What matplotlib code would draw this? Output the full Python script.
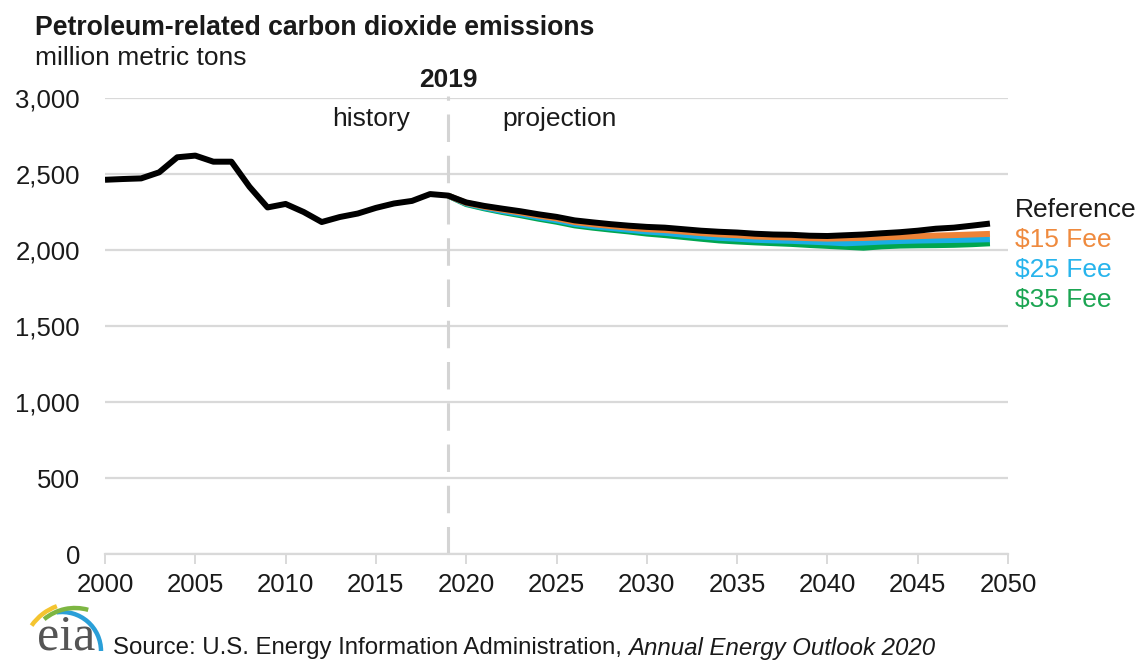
import matplotlib
matplotlib.use("Agg")
import matplotlib.pyplot as plt
from matplotlib.patches import Arc

plt.rcParams['font.family'] = ['Liberation Sans', 'DejaVu Sans']

# ---- data (million metric tons) ----
hist_years = list(range(2000, 2020))
hist_values = [2462, 2467, 2471, 2511, 2610, 2621, 2581, 2581, 2416, 2280,
               2303, 2250, 2184, 2217, 2240, 2277, 2306, 2323, 2368, 2358]

proj_years = list(range(2019, 2050))
reference = [2358, 2313, 2290, 2272, 2255, 2235, 2218, 2195, 2182, 2170,
             2160, 2152, 2147, 2137, 2127, 2120, 2115, 2107, 2102, 2100,
             2094, 2092, 2097, 2102, 2110, 2117, 2127, 2140, 2147, 2160, 2174]
fee15 = [2358, 2310, 2285, 2265, 2247, 2226, 2208, 2184, 2170, 2158,
         2147, 2137, 2131, 2121, 2111, 2103, 2097, 2089, 2085, 2082,
         2078, 2075, 2077, 2079, 2083, 2087, 2091, 2095, 2098, 2102, 2106]
fee25 = [2358, 2306, 2279, 2256, 2237, 2215, 2196, 2172, 2157, 2145,
         2133, 2121, 2113, 2101, 2090, 2080, 2074, 2067, 2063, 2060,
         2055, 2050, 2044, 2049, 2055, 2059, 2062, 2064, 2066, 2068, 2071]
fee35 = [2358, 2302, 2274, 2250, 2229, 2206, 2186, 2162, 2147, 2134,
         2122, 2108, 2098, 2086, 2074, 2063, 2056, 2050, 2045, 2040,
         2033, 2027, 2021, 2015, 2024, 2029, 2031, 2032, 2034, 2038, 2044]

series_labels = ["Reference", "$15 Fee", "$25 Fee", "$35 Fee"]
line_colors = ["#000000", "#ED8236", "#1AAEE5", "#00A650"]
text_colors = ["#1A1A1A", "#EF8A3E", "#27B4EC", "#1BA552"]

x_ticks = list(range(2000, 2051, 5))
y_ticks = [0, 500, 1000, 1500, 2000, 2500, 3000]

W, H = 1139, 661
fig = plt.figure(figsize=(W / 100, H / 100), dpi=100)
fig.patch.set_facecolor("white")

ax = fig.add_axes([105 / W, (H - 554) / H, (1008 - 105) / W, (554 - 98) / H])
ax.set_xlim(2000, 2050)
ax.set_ylim(0, 3000)

grid_c = "#D9D9D9"
for s in ["left", "top", "right"]:
    ax.spines[s].set_visible(False)
ax.spines["bottom"].set_color(grid_c)
ax.spines["bottom"].set_linewidth(1.6)
ax.set_yticks(y_ticks)
ax.set_yticklabels([f"{v:,}" for v in y_ticks])
ax.set_xticks(x_ticks)
ax.set_xticklabels([str(v) for v in x_ticks])
ax.tick_params(axis="y", length=0, pad=18, labelsize=18.5, labelcolor="#1A1A1A")
ax.tick_params(axis="x", length=7, width=1.4, color=grid_c, pad=7,
               labelsize=18.5, labelcolor="#1A1A1A")
ax.yaxis.grid(True, color=grid_c, linewidth=1.6)
ax.set_axisbelow(True)

# 2019 history / projection divider
ax.axvline(2019, ymin=0, ymax=1.005, color="#D4D4D4", linewidth=2.2,
           dashes=(9, 4.5), clip_on=False, zorder=1)
ax.text(2019, 3120, "2019", ha="center", va="center", fontsize=19,
        fontweight="bold", color="#1A1A1A")
ax.text(2016.9, 2862, "history", ha="right", va="center", fontsize=19,
        color="#1A1A1A")
ax.text(2022.0, 2862, "projection", ha="left", va="center", fontsize=19,
        color="#1A1A1A")

# projection lines, drawn under the reference case
lw = 4.3
for vals, col in [(fee35, line_colors[3]), (fee25, line_colors[2]),
                  (fee15, line_colors[1])]:
    ax.plot(proj_years, vals, color=col, linewidth=lw,
            solid_joinstyle="round", solid_capstyle="butt", zorder=3)
ref_years = hist_years + proj_years[1:]
ref_values = hist_values + reference[1:]
ax.plot(ref_years, ref_values, color=line_colors[0], linewidth=lw,
        solid_joinstyle="round", solid_capstyle="butt", zorder=4)

# series labels at the right end
label_y = [2262, 2065, 1868, 1670]
for lab, yv, tc in zip(series_labels, label_y, text_colors):
    ax.text(2050.4, yv, lab, ha="left", va="center", fontsize=19,
            color=tc, clip_on=False)

# titles
fig.text(35 / W, 1 - 28 / H, "Petroleum-related carbon dioxide emissions",
         ha="left", va="center", fontsize=19.2, fontweight="bold",
         color="#1A1A1A")
fig.text(35 / W, 1 - 58 / H, "million metric tons", ha="left", va="center",
         fontsize=19, color="#1A1A1A")

# source line
src = fig.text(113 / W, 1 - 648 / H,
               "Source: U.S. Energy Information Administration, ",
               ha="left", va="center", fontsize=17.3, color="#1A1A1A")
fig.canvas.draw()
bb = src.get_window_extent(renderer=fig.canvas.get_renderer())
fig.text(bb.x1 / W, 1 - 648 / H, "Annual Energy Outlook 2020", ha="left",
         va="center", fontsize=17.3, style="italic", color="#1A1A1A")

# eia logo
lax = fig.add_axes([0, 0, 1, 1], zorder=-1)
lax.set_xlim(0, W)
lax.set_ylim(0, H)
lax.axis("off")
lax.text(37, 1, "eia", ha="left", va="bottom", fontsize=36,
         family=["Liberation Serif", "DejaVu Serif"], color="#555555")
lax.add_patch(Arc((62, 10), 78, 78, theta1=0, theta2=98,
                  color="#2A9FD8", linewidth=3.2))
lax.add_patch(Arc((75, 5), 96, 96, theta1=74, theta2=130,
                  color="#7DB642", linewidth=3.2))
lax.add_patch(Arc((75, 5), 106, 106, theta1=110, theta2=145,
                  color="#F4C430", linewidth=3.2))

fig.savefig("out.png", dpi=100, facecolor="white")
